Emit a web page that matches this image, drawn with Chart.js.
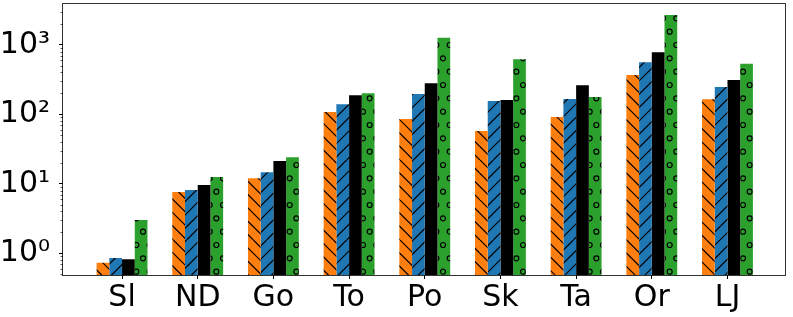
<!DOCTYPE html>
<html>
<head>
<meta charset="utf-8">
<script src="https://cdn.jsdelivr.net/npm/chart.js@4"></script>
<style>
  body { margin: 0; background: #fff; }
  #wrap { width: 793px; height: 317px; }
</style>
</head>
<body>
<div id="wrap"><canvas id="myChart" width="793" height="317"></canvas></div>
<script>
let categories = ['Sl', 'ND', 'Go', 'To', 'Po', 'Sk', 'Ta', 'Or', 'LJ'];
let orangeData = [0.73, 7.6, 12.0, 108, 85.6, 57.5, 91.4, 367, 164];
let blueData = [0.855, 8.15, 14.6, 139, 196, 155, 166, 560, 247];
let blackData = [0.82, 9.6, 21.3, 188, 279, 161, 261, 780, 312];
let greenData = [3.01, 12.5, 24.1, 200, 1265, 618, 177, 2685, 535];
let majorTicks = [1, 10, 100, 1000];
let minorTicks = [0.5, 0.6, 0.7, 0.8, 0.9, 2, 3, 4, 5, 6, 7, 8, 9,
  20, 30, 40, 50, 60, 70, 80, 90, 200, 300, 400, 500, 600, 700, 800, 900, 2000, 3000];
let supers = {0: '\u2070', 1: '\u00B9', 2: '\u00B2', 3: '\u00B3'};

// hatch patterns like matplotlib's '\\', '/', 'o'
function makeHatch(color, kind) {
  let c = document.createElement('canvas');
  c.width = 40;
  c.height = 80;
  let g = c.getContext('2d');
  g.fillStyle = color;
  g.fillRect(0, 0, 40, 80);
  g.strokeStyle = '#000';
  g.lineWidth = 1.2;
  let p = 40 / 3;
  if (kind === '\\') {
    for (let k = -9; k <= 3; k++) {
      g.beginPath(); g.moveTo(k * p, 0); g.lineTo(k * p + 80, 80); g.stroke();
    }
  } else if (kind === '/') {
    for (let k = 0; k <= 12; k++) {
      g.beginPath(); g.moveTo(k * p, 0); g.lineTo(k * p - 80, 80); g.stroke();
    }
  } else if (kind === 'o') {
    for (let j = -1; j <= 6; j++) {
      for (let i = -1; i <= 3; i++) {
        let x = i * p + (j % 2 ? p / 2 : 0) + 3;
        let y = j * p + 5;
        g.beginPath(); g.arc(x, y, 2.5, 0, Math.PI * 2); g.stroke();
      }
    }
  }
  return g.createPattern(c, 'repeat');
}

function points(arr) {
  return arr.map((v, i) => ({x: i, y: v}));
}

let frame = {
  id: 'frame',
  afterDatasetsDraw(chart) {
    let a = chart.chartArea;
    let ctx = chart.ctx;
    ctx.save();
    ctx.strokeStyle = 'rgba(0,0,0,0.8)';
    ctx.lineWidth = 1;
    ctx.strokeRect(Math.round(a.left) - 0.5, Math.round(a.top) + 0.5,
      Math.round(a.right - a.left) + 1, Math.round(a.bottom - a.top));
    // minor ticks on the log axis
    let y = chart.scales.y;
    ctx.beginPath();
    minorTicks.forEach(v => {
      let py = Math.round(y.getPixelForValue(v)) + 0.5;
      ctx.moveTo(a.left - 2.5, py);
      ctx.lineTo(a.left, py);
    });
    ctx.lineWidth = 0.8;
    ctx.stroke();
    ctx.restore();
  }
};

let myChart = document.getElementById('myChart').getContext('2d');
let chart = new Chart(myChart, {
  type: 'bar',
  data: {
    datasets: [
      { data: points(orangeData), backgroundColor: makeHatch('#ff7f0e', '\\') },
      { data: points(blueData), backgroundColor: makeHatch('#1f77b4', '/') },
      { data: points(blackData), backgroundColor: '#000000' },
      { data: points(greenData), backgroundColor: makeHatch('#2ca02c', 'o') }
    ]
  },
  options: {
    responsive: false,
    animation: false,
    devicePixelRatio: 1,
    layout: { padding: { top: 3, right: 8, left: 0, bottom: 0 } },
    datasets: { bar: { barPercentage: 1, categoryPercentage: 0.672, borderWidth: 0 } },
    plugins: { legend: { display: false }, tooltip: { enabled: false } },
    scales: {
      x: {
        type: 'linear',
        offset: false,
        min: -0.78,
        max: 8.76,
        afterBuildTicks: axis => { axis.ticks = categories.map((c, i) => ({value: i})); },
        afterFit: axis => { axis.height = 42; axis.paddingLeft = 0; axis.paddingRight = 0; },
        grid: { offset: false, drawOnChartArea: false, tickLength: 4, tickColor: '#000', tickWidth: 1 },
        border: { display: false },
        ticks: {
          autoSkip: false,
          maxRotation: 0,
          padding: 1,
          color: '#000',
          font: { family: 'DejaVu Sans', size: 30 },
          callback: v => categories[v]
        }
      },
      y: {
        type: 'logarithmic',
        min: 0.487,
        max: 3990,
        afterBuildTicks: axis => { axis.ticks = majorTicks.map(v => ({value: v})); },
        afterFit: axis => { axis.width = 63; axis.paddingTop = 0; axis.paddingBottom = 0; },
        grid: { offset: false, drawOnChartArea: false, tickLength: 4, tickColor: '#000', tickWidth: 1 },
        border: { display: false },
        ticks: {
          autoSkip: false,
          padding: 9,
          color: '#000',
          font: { family: 'DejaVu Sans', size: 30 },
          callback: v => '10' + supers[Math.round(Math.log10(v))]
        }
      }
    }
  },
  plugins: [frame]
});
</script>
</body>
</html>
